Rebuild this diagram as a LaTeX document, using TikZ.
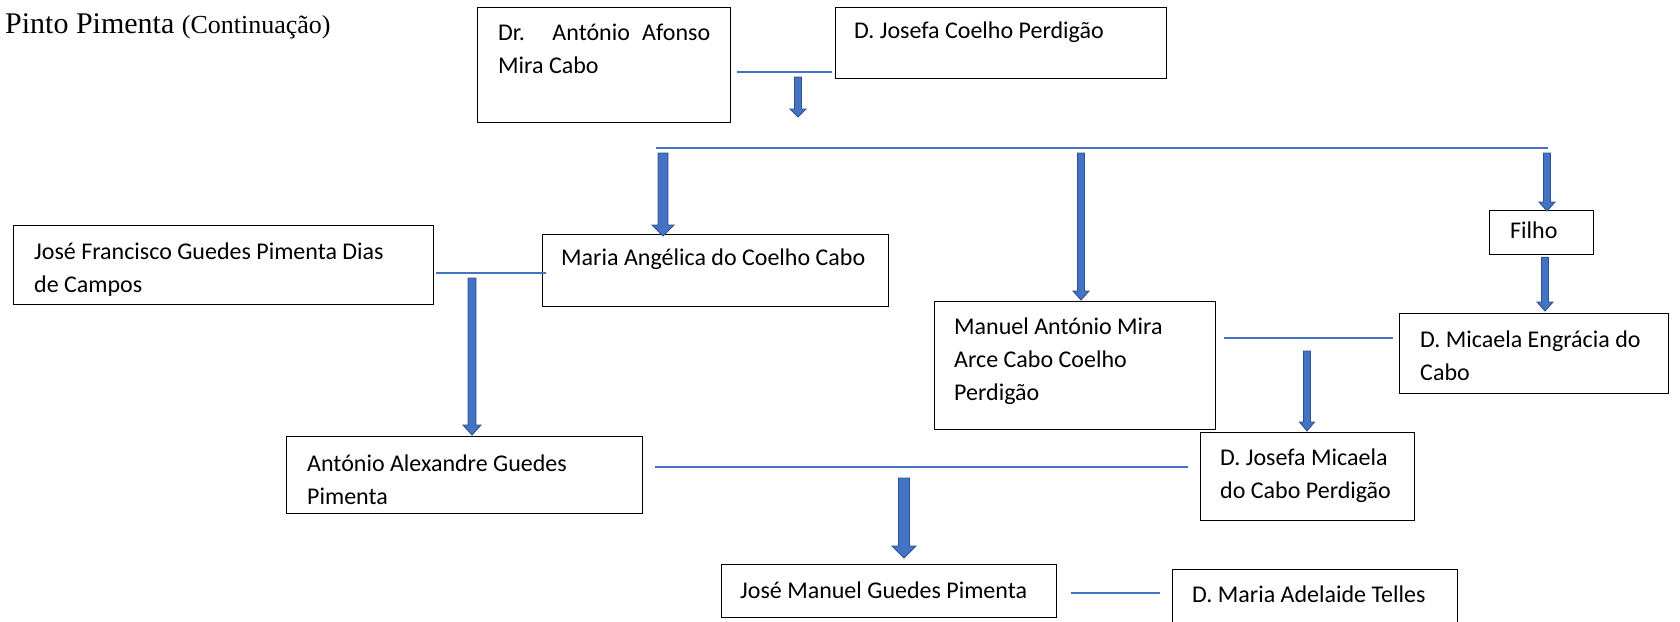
\documentclass[tikz,border=0pt]{standalone}
\usepackage{fontspec}
\setmainfont{Carlito}
\newfontfamily\titlefont{Liberation Serif}
\usetikzlibrary{calc}
\definecolor{lineblue}{HTML}{4472C4}
\definecolor{arrowfill}{HTML}{4472C4}
\definecolor{arrowdark}{HTML}{2F528F}
\tikzset{
  fambox/.style={draw=black, line width=1.3pt, fill=white, rectangle, inner sep=0pt, anchor=north west},
  boxtext/.style={anchor=base west, inner sep=0pt, font=\fontsize{24}{33}\selectfont},
  conn/.style={draw=lineblue, line width=1.3pt},
  blockarrow/.style={fill=arrowfill, draw=arrowdark, line width=0.9pt, line join=miter},
}
% #1 start point, #2 tip point, #3 half shaft, #4 half head, #5 head length
\newcommand\barrow[5]{%
  \filldraw[blockarrow] let \p1=#1, \p2=#2 in
    (\x1-#3,\y1) -- (\x1+#3,\y1) -- (\x1+#3,\y2+#5) -- (\x1+#4,\y2+#5) --
    (\x1,\y2) -- (\x1-#4,\y2+#5) -- (\x1-#3,\y2+#5) -- cycle;}
\begin{document}
\begin{tikzpicture}[x=1pt,y=-1pt]
\useasboundingbox (0,0) rectangle (1680,621);
\begin{scope}
\clip (0,0) rectangle (1680,621);

% title
\node[anchor=base west, inner sep=0pt] (title) at (5,33)
  {\titlefont\fontsize{30}{34}\selectfont Pinto Pimenta \fontsize{26}{30}\selectfont(Continuação)};

% boxes
\node[fambox, minimum width=253pt, minimum height=115pt] (A) at (477,7) {};
\node[fambox, minimum width=331pt, minimum height=71pt] (B) at (835,7) {};
\node[fambox, minimum width=104pt, minimum height=44pt] (F) at (1489,210) {};
\node[fambox, minimum width=346pt, minimum height=72pt] (MA) at (542,234) {};
\node[fambox, minimum width=420pt, minimum height=79pt] (JF) at (13,225) {};
\node[fambox, minimum width=281pt, minimum height=128pt] (MAN) at (934,301) {};
\node[fambox, minimum width=269pt, minimum height=80pt] (ME) at (1399,313) {};
\node[fambox, minimum width=214pt, minimum height=88pt] (JMI) at (1200,432) {};
\node[fambox, minimum width=356pt, minimum height=77pt] (AA) at (286,436) {};
\node[fambox, minimum width=335pt, minimum height=53pt] (JM) at (721,564) {};
\node[fambox, minimum width=285pt, minimum height=80pt] (MAT) at (1172,569) {};

% texts
\node[boxtext] (tA) at ($(A.north west)+(21,33)$)
  {\vtop{\hbox{\makebox[212pt][s]{Dr. António Afonso}}\hbox{Mira Cabo}}};
\node[boxtext] (tB) at ($(B.north west)+(19,31)$) {D. Josefa Coelho Perdigão};
\node[boxtext] (tF) at ($(F.north west)+(21,28)$) {Filho};
\node[boxtext] (tMA) at ($(MA.north west)+(19,31)$) {Maria Angélica do Coelho Cabo};
\node[boxtext] (tJF) at ($(JF.north west)+(21,34)$)
  {\vtop{\hbox{José Francisco Guedes Pimenta Dias}\hbox{de Campos}}};
\node[boxtext] (tMAN) at ($(MAN.north west)+(20,33)$)
  {\vtop{\hbox{Manuel António Mira}\hbox{Arce Cabo Coelho}\hbox{Perdigão}}};
\node[boxtext] (tME) at ($(ME.north west)+(21,34)$)
  {\vtop{\hbox{D. Micaela Engrácia do}\hbox{Cabo}}};
\node[boxtext] (tJMI) at ($(JMI.north west)+(20,33)$)
  {\vtop{\hbox{D. Josefa Micaela}\hbox{do Cabo Perdigão}}};
\node[boxtext] (tAA) at ($(AA.north west)+(21,35)$)
  {\vtop{\hbox{António Alexandre Guedes}\hbox{Pimenta}}};
\node[boxtext] (tJM) at ($(JM.north west)+(19,34)$) {José Manuel Guedes Pimenta};
\node[boxtext] (tMAT) at ($(MAT.north west)+(20,33)$) {D. Maria Adelaide Telles};

% marriage / sibling lines
\draw[conn] ($(A.north east)+(6,65)$) -- ($(B.north west)+(-3,65)$);
\coordinate (s1) at (656,148);
\coordinate (s2) at (1548,148);
\draw[conn] (s1) -- (s2);
\draw[conn] ($(JF.north east)+(2,48)$) -- ($(MA.north west)+(4,39)$);
\draw[conn] ($(MAN.north east)+(8,37)$) -- ($(ME.north west)+(-6,25)$);
\draw[conn] ($(AA.north east)+(12,31)$) -- ($(JMI.north west)+(-12,35)$);
\draw[conn] ($(JM.north east)+(14,29)$) -- ($(MAT.north west)+(-12,24)$);

% block arrows
\coordinate (a0) at (798,77);
\barrow{(a0)}{(798,117)}{3.5pt}{8pt}{8pt}
\coordinate (a1) at (663,153);
\barrow{(a1)}{($(MA.north west)+(121,2)$)}{5pt}{11pt}{11pt}
\coordinate (a2) at (1081,153);
\barrow{(a2)}{($(MAN.north west)+(147,-1)$)}{3.5pt}{8pt}{9pt}
\coordinate (a3) at (1547,153);
\barrow{(a3)}{($(F.north west)+(58,1)$)}{3.5pt}{8pt}{9pt}
\coordinate (a4) at ($(F.south west)+(56,2)$);
\barrow{(a4)}{($(ME.north west)+(146,-2)$)}{3.5pt}{8pt}{9pt}
\coordinate (a5) at (472,278);
\barrow{(a5)}{($(AA.north west)+(186,-1)$)}{4pt}{9pt}{10pt}
\coordinate (a6) at (1307,351);
\barrow{(a6)}{($(JMI.north west)+(107,-1)$)}{3.5pt}{7.5pt}{9pt}
\coordinate (a7) at (904,478);
\barrow{(a7)}{($(JM.north west)+(183,-6)$)}{5.5pt}{12pt}{12pt}
\end{scope}
\end{tikzpicture}
\end{document}
